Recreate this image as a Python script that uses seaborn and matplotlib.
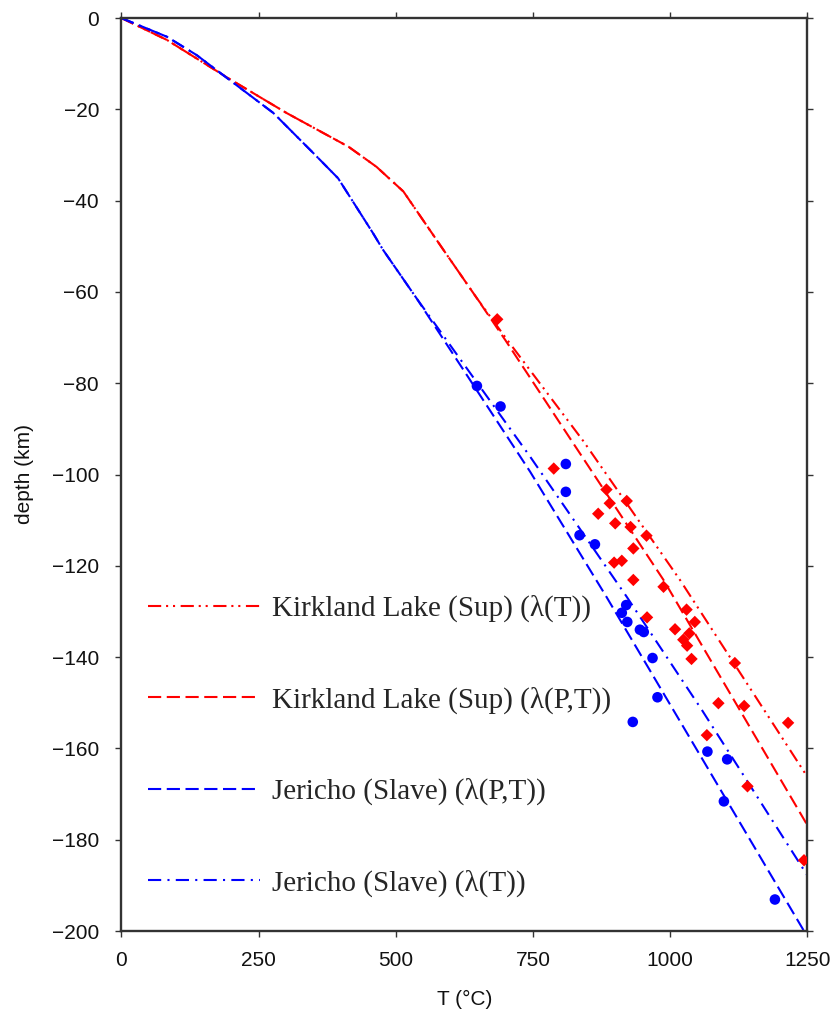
import matplotlib
matplotlib.use("Agg")
import matplotlib.pyplot as plt
import seaborn as sns
import numpy as np

# ---------------- data ----------------
# Geotherms: temperature (C) vs depth (km)
kl_T_T = [0, 83, 195, 301, 414, 465, 514, 587, 648, 700, 842, 1018, 1250]
kl_T_d = [0, -4.8, -13.2, -20.8, -28.2, -32.6, -38.0, -50.8, -61.4, -70.0, -92.7, -123.1, -166.2]

kl_PT_T = [0, 83, 195, 301, 414, 465, 514, 587, 648, 700, 821, 988, 1250]
kl_PT_d = [0, -4.8, -13.2, -20.8, -28.2, -32.6, -38.0, -50.8, -61.4, -70.6, -92.7, -123.1, -176.8]

jer_PT_T = [0, 83, 137, 277, 350, 395, 459, 477, 538, 745, 884, 1243]
jer_PT_d = [0, -4.1, -8.1, -20.8, -29.6, -35.1, -47.2, -50.8, -61.4, -99.4, -126.8, -199.8]

jer_T_T = [0, 83, 137, 277, 350, 395, 459, 477, 538, 745, 921, 1058, 1250]
jer_T_d = [0, -4.1, -8.1, -20.8, -29.6, -35.1, -47.2, -50.8, -61.4, -96.1, -126.8, -151.6, -187.8]

# Xenolith P-T estimates
kl_pts_T = [685, 788, 884, 890, 921, 869, 900, 928, 957, 933, 898, 912, 933, 988,
            1030, 1045, 958, 1009, 1035, 1024, 1031, 1039, 1118, 1088, 1135, 1215,
            1067, 1141, 1244]
kl_pts_d = [-66.0, -98.7, -103.3, -106.3, -105.8, -108.6, -110.7, -111.5, -113.4,
            -116.2, -119.3, -118.9, -123.1, -124.6, -129.6, -132.3, -131.3, -133.9,
            -134.8, -136.2, -137.5, -140.4, -141.3, -150.1, -150.7, -154.4, -157.1,
            -168.3, -184.5]

jer_pts_T = [648, 691, 810, 810, 835, 863, 920, 912, 922, 945, 952, 968, 977, 932,
             1068, 1104, 1098, 1191]
jer_pts_d = [-80.6, -85.1, -97.7, -103.8, -113.3, -115.3, -128.6, -130.3, -132.3,
             -134.0, -134.5, -140.2, -148.8, -154.2, -160.7, -162.4, -171.6, -193.1]

labels = ["Kirkland Lake (Sup) (\u03bb(T))",
          "Kirkland Lake (Sup) (\u03bb(P,T))",
          "Jericho (Slave) (\u03bb(P,T))",
          "Jericho (Slave) (\u03bb(T))"]

xticks = [0, 250, 500, 750, 1000, 1250]
yticks = [0, -20, -40, -60, -80, -100, -120, -140, -160, -180, -200]

# ---------------- plot ----------------
sns.set_style("white")
plt.rcParams["font.family"] = ["Liberation Sans", "DejaVu Sans"]
plt.rcParams["lines.scale_dashes"] = False
plt.rcParams["axes.unicode_minus"] = True

fig = plt.figure(figsize=(8.36, 10.15), dpi=100)
ax = fig.add_axes([121.3 / 836, 1 - 931 / 1015, 686 / 836, 913 / 1015])

lw = 1.5
dash_ddot = (0, (9.5, 3.5, 1.5, 3.5, 1.5, 4.0))
dash = (0, (9.5, 4.0))
dash_dot = (0, (9.5, 4.5, 1.5, 4.5))

series = [
    (kl_T_T, kl_T_d, "#ff0000", dash_ddot),
    (kl_PT_T, kl_PT_d, "#ff0000", dash),
    (jer_PT_T, jer_PT_d, "#0000ff", dash),
    (jer_T_T, jer_T_d, "#0000ff", dash_dot),
]
handles = []
for (xs, ys, c, ls), lab in zip(series, labels):
    sns.lineplot(x=xs, y=ys, sort=False, estimator=None, color=c, lw=lw, ax=ax)
    line = ax.get_lines()[-1]
    line.set_linestyle(ls)
    line.set_label(lab)
    handles.append(line)

sns.scatterplot(x=kl_pts_T, y=kl_pts_d, marker="D", color="#ff0000", s=40,
                edgecolor="none", ax=ax, zorder=5)
sns.scatterplot(x=jer_pts_T, y=jer_pts_d, marker="o", color="#0000ff", s=58,
                edgecolor="none", ax=ax, zorder=5)

ax.set_xlim(0, 1250)
ax.set_ylim(-200, 0)
ax.set_xticks(xticks)
ax.set_yticks(yticks)
ax.set_xticklabels([str(v) for v in xticks])
ax.set_yticklabels([("\u2212" + str(-v)) if v < 0 else str(v) for v in yticks])

for s in ax.spines.values():
    s.set_color("#333333")
    s.set_linewidth(1.7)
ax.tick_params(axis="both", which="both", direction="out", length=4, width=1.0,
               color="#333333", labelsize=15, labelcolor="#111111",
               top=True, right=True, bottom=True, left=True)
ax.tick_params(axis="x", pad=10.5)
ax.tick_params(axis="y", pad=12)

ax.set_xlabel("T (\u00b0C)", fontsize=15, labelpad=14.5, color="#111111")
ax.set_ylabel("depth (km)", fontsize=15, labelpad=13, color="#111111")

leg = ax.legend(handles=handles, labels=labels, loc="upper left",
                bbox_to_anchor=(0.039, 0.368), frameon=False,
                prop={"family": "Liberation Serif", "size": 21},
                handlelength=3.84, handletextpad=0.41, labelspacing=2.2,
                borderpad=0, borderaxespad=0)

fig.savefig("out.png", dpi=100)
